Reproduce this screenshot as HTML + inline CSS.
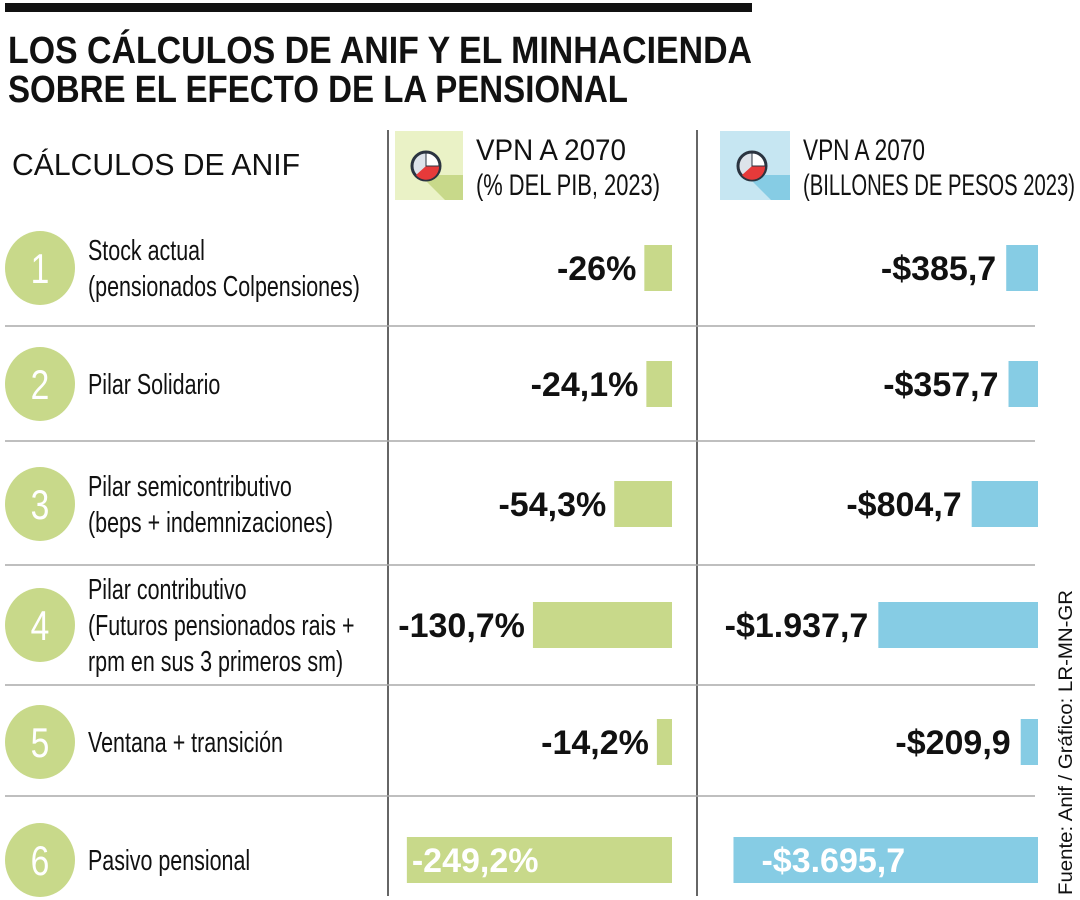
<!DOCTYPE html>
<html><head><meta charset="utf-8">
<style>
html,body{margin:0;padding:0;background:#fff;}
svg{display:block;font-family:"Liberation Sans",sans-serif;}
</style></head>
<body>
<svg id="chart" width="1080" height="900" viewBox="0 0 1080 900" xmlns="http://www.w3.org/2000/svg">
  <rect x="5" y="3" width="747" height="9" fill="#111"/>
  <text x="8" y="63" font-size="38" font-weight="bold" fill="#111" textLength="744" lengthAdjust="spacingAndGlyphs">LOS CÁLCULOS DE ANIF Y EL MINHACIENDA</text>
  <text x="8" y="102" font-size="38" font-weight="bold" fill="#111" textLength="620" lengthAdjust="spacingAndGlyphs">SOBRE EL EFECTO DE LA PENSIONAL</text>
  <text x="12" y="175" font-size="31" fill="#111" textLength="288" lengthAdjust="spacingAndGlyphs">CÁLCULOS DE ANIF</text>

  <line x1="388" y1="130" x2="388" y2="896" stroke="#333" stroke-width="1.5"/>
  <line x1="697" y1="130" x2="697" y2="896" stroke="#333" stroke-width="1.5"/>

  <g>
    <rect x="395" y="131" width="68" height="69" fill="#eaf2c6"/>
    <polygon points="430,175 463,175 463,200 445,200 420,175" fill="#c8d98a"/>
    <circle cx="426" cy="166" r="14" fill="#dde3ea" stroke="#2b3440" stroke-width="3"/>
    <path d="M426,166 L439,166 A13,13 0 0 1 416,175 Z" fill="#e63a3a"/>
    <path d="M426,166 L426,153 A13,13 0 0 1 439,166 Z" fill="#fff" stroke="#2b3440" stroke-width="1"/>
    <text x="476" y="160" font-size="30" fill="#111" textLength="150" lengthAdjust="spacingAndGlyphs">VPN A 2070</text>
    <text x="476" y="195" font-size="30" fill="#111" textLength="184" lengthAdjust="spacingAndGlyphs">(% DEL PIB, 2023)</text>
  </g>
  <g>
    <rect x="720" y="131" width="70" height="69" fill="#c6e6f2"/>
    <polygon points="756,175 790,175 790,200 771,200 746,175" fill="#86cce4"/>
    <circle cx="752" cy="166" r="14" fill="#dde3ea" stroke="#2b3440" stroke-width="3"/>
    <path d="M752,166 L765,166 A13,13 0 0 1 742,175 Z" fill="#e63a3a"/>
    <path d="M752,166 L752,153 A13,13 0 0 1 765,166 Z" fill="#fff" stroke="#2b3440" stroke-width="1"/>
    <text x="803" y="160" font-size="30" fill="#111" textLength="122" lengthAdjust="spacingAndGlyphs">VPN A 2070</text>
    <text x="803" y="195" font-size="30" fill="#111" textLength="272" lengthAdjust="spacingAndGlyphs">(BILLONES DE PESOS 2023)</text>
  </g>

  <g id="rows"></g>

  <text transform="translate(1072,895) rotate(-90)" font-size="19" fill="#111" textLength="305" lengthAdjust="spacingAndGlyphs">Fuente: Anif / Gráfico: LR-MN-GR</text>
</svg>
<script>
const categories = [
  ["Stock actual","(pensionados Colpensiones)"],
  ["Pilar Solidario"],
  ["Pilar semicontributivo","(beps + indemnizaciones)"],
  ["Pilar contributivo","(Futuros pensionados rais +","rpm en sus 3 primeros sm)"],
  ["Ventana + transición"],
  ["Pasivo pensional"]
];
const pctValues = [26, 24.1, 54.3, 130.7, 14.2, 249.2];
const pesoValues = [385.7, 357.7, 804.7, 1937.7, 209.9, 3695.7];
const pctLabels = ["-26%","-24,1%","-54,3%","-130,7%","-14,2%","-249,2%"];
const pesoLabels = ["-$385,7","-$357,7","-$804,7","-$1.937,7","-$209,9","-$3.695,7"];

const NS = "http://www.w3.org/2000/svg";
const rowsG = document.getElementById("rows");
const rowCenters = [268, 384, 504, 625, 742, 860];
const separators = [326, 441, 565, 685, 796];
const pctScale = v => v * 1.064;
const pesoScale = v => v * 0.0824;
const pctRight = 672, pesoRight = 1038, barH = 46;

function mk(tag, attrs, parent){
  const e = document.createElementNS(NS, tag);
  for (const k in attrs) e.setAttribute(k, attrs[k]);
  parent.appendChild(e);
  return e;
}

separators.forEach((y) => {
  const l = mk("line", {x1:5, x2:1035, y1:y, y2:y, stroke:"#aaa", "stroke-width":1.5}, rowsG);
  
  
});

categories.forEach((lines, i) => {
  const cy = rowCenters[i];
  const g = mk("g", {}, rowsG);
  
  

  const c = mk("ellipse", {cx:40, cy:cy, rx:35, ry:37, fill:"#c8d98a"}, g);
  
  
  const n = mk("text", {x:40, y:cy+15, "font-size":42, fill:"#fff", "text-anchor":"middle", transform:`translate(40,0) scale(0.8,1) translate(-40,0)`}, g);
  n.textContent = String(i+1);
  
  

  const lh = 36;
  const startY = cy + 10 - (lines.length-1)*lh/2;
  lines.forEach((t, j) => {
    const tx = mk("text", {"font-size":29, fill:"#111", transform:`translate(88,${startY + j*lh}) scale(0.74,1)`}, g);
    tx.textContent = t;
    
    
  });

  const last = i === categories.length - 1;
  const pw = pctScale(pctValues[i]);
  const pb = mk("rect", {x:pctRight - pw, y:cy - barH/2, width:pw, height:barH, fill:"#c8d98a"}, g);
  
  
  const pt = mk("text", last ? {x:pctRight - pw + 5, y:cy+12, "font-size":34, "font-weight":"bold", fill:"#fff"}
                             : {x:pctRight - pw - 8, y:cy+12, "font-size":34, "font-weight":"bold", fill:"#111", "text-anchor":"end"}, g);
  pt.textContent = pctLabels[i];
  
  

  const bw = pesoScale(pesoValues[i]);
  const bb = mk("rect", {x:pesoRight - bw, y:cy - barH/2, width:bw, height:barH, fill:"#86cce4"}, g);
  
  
  const bt = mk("text", last ? {x:pesoRight - bw + 28, y:cy+12, "font-size":34, "font-weight":"bold", fill:"#fff"}
                             : {x:pesoRight - bw - 10, y:cy+12, "font-size":34, "font-weight":"bold", fill:"#111", "text-anchor":"end"}, g);
  bt.textContent = pesoLabels[i];
  
  
});
</script>
</body></html>
